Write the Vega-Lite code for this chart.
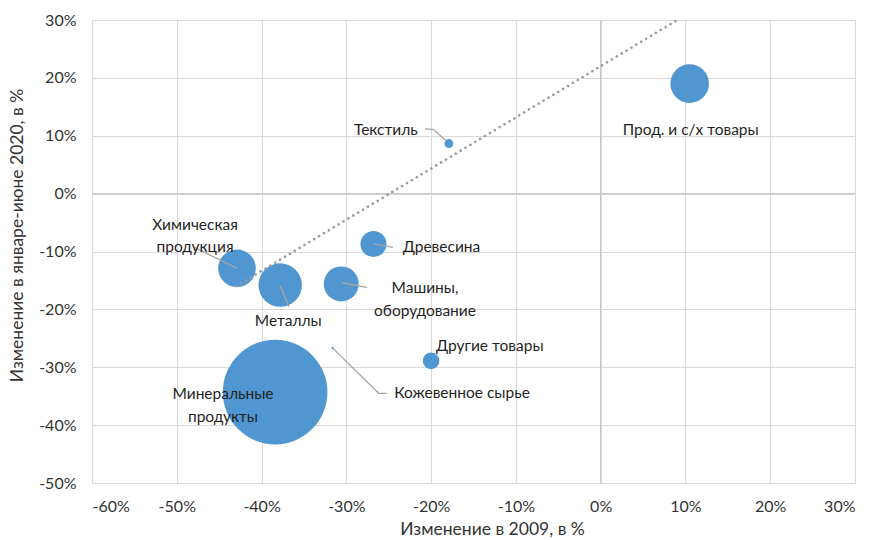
{
  "$schema": "https://vega.github.io/schema/vega-lite/v6.json",
  "autosize": "none",
  "width": 763,
  "height": 463,
  "padding": {"left": 92, "top": 20, "right": 16, "bottom": 57},
  "background": "white",
  "config": {
    "font": "Lato",
    "view": {"stroke": null},
    "axis": {
      "labelFont": "Lato", "labelFontSize": 16, "labelColor": "#333333",
      "titleFont": "Lato", "titleFontSize": 17.5, "titleFontWeight": "normal", "titleColor": "#333333",
      "gridColor": "#d9d9d9", "gridWidth": 1, "domain": false, "ticks": false
    }
  },
  "datasets": {
    "points": [
      {"name": "Минеральные продукты", "label": "Минеральные\nпродукты", "x": -38.4, "y": -34.3, "w": 58.0, "lx": -44.55, "ly": -34.66},
      {"name": "Металлы", "label": "Металлы", "x": -37.8, "y": -15.8, "w": 10.0, "lx": -36.85, "ly": -22.0},
      {"name": "Химическая продукция", "label": "Химическая\nпродукция", "x": -42.9, "y": -12.9, "w": 7.5, "lx": -47.85, "ly": -5.4},
      {"name": "Машины, оборудование", "label": "Машины,\nоборудование", "x": -30.6, "y": -15.6, "w": 6.5, "lx": -20.72, "ly": -16.39},
      {"name": "Древесина", "label": "Древесина", "x": -26.8, "y": -8.7, "w": 3.6, "lx": -23.35, "ly": -9.3},
      {"name": "Текстиль", "label": "Текстиль", "x": -17.9, "y": 8.65, "w": 0.42, "lx": -21.58, "ly": 11.0},
      {"name": "Прод. и с/х товары", "label": "Прод. и с/х товары", "x": 10.5, "y": 19.0, "w": 7.9, "lx": 10.62, "ly": 11.0},
      {"name": "Другие товары", "label": "Другие товары", "x": -20.0, "y": -28.9, "w": 1.45, "lx": -19.42, "ly": -26.28},
      {"name": "Кожевенное сырье", "label": "Кожевенное сырье", "x": -31.6, "y": -26.7, "w": 0.03, "lx": -24.34, "ly": -34.5}
    ],
    "leaders": [
      {"name": "Химическая продукция", "ord": 1, "x": -47.9, "y": -9.3},
      {"name": "Химическая продукция", "ord": 2, "x": -42.9, "y": -12.9},
      {"name": "Текстиль", "ord": 1, "x": -20.72, "y": 11.2},
      {"name": "Текстиль", "ord": 2, "x": -19.74, "y": 11.1},
      {"name": "Текстиль", "ord": 3, "x": -18.2, "y": 9.1},
      {"name": "Древесина", "ord": 1, "x": -26.8, "y": -8.7},
      {"name": "Древесина", "ord": 2, "x": -24.5, "y": -9.3},
      {"name": "Машины, оборудование", "ord": 1, "x": -30.5, "y": -15.4},
      {"name": "Машины, оборудование", "ord": 2, "x": -27.6, "y": -16.2},
      {"name": "Металлы", "ord": 1, "x": -37.8, "y": -15.9},
      {"name": "Металлы", "ord": 2, "x": -36.76, "y": -19.54},
      {"name": "Кожевенное сырье", "ord": 1, "x": -31.6, "y": -26.7},
      {"name": "Кожевенное сырье", "ord": 2, "x": -26.18, "y": -34.5},
      {"name": "Кожевенное сырье", "ord": 3, "x": -25.24, "y": -34.5}
    ],
    "trend": [
      {"x": -43.0, "y": -16.0},
      {"x": 10.5, "y": 31.3}
    ],
    "zero": [{"v": 0}]
  },
  "layer": [
    {
      "data": {"name": "points"},
      "mark": {"type": "point", "opacity": 0},
      "encoding": {
        "x": {"field": "x", "type": "quantitative", "scale": {"domain": [-60, 30], "nice": false, "zero": false},
          "axis": {"values": [-60, -50, -40, -30, -20, -10, 0, 10, 20, 30], "labelExpr": "datum.value + '%'", "labelPadding": 15,
            "title": "Изменение в 2009, в %", "titleX": 400, "titleY": 46, "titleBaseline": "middle", "titleAnchor": "middle"}},
        "y": {"field": "y", "type": "quantitative", "scale": {"domain": [-50, 30], "nice": false, "zero": false},
          "axis": {"values": [-50, -40, -30, -20, -10, 0, 10, 20, 30], "labelExpr": "datum.value + '%'", "labelPadding": 16,
            "title": "Изменение в январе-июне 2020, в %", "titleX": -75, "titleY": 215, "titleBaseline": "middle", "titleAnchor": "middle"}}
      }
    },
    {
      "data": {"name": "zero"},
      "mark": {"type": "rule", "color": "#bfbfbf", "strokeWidth": 1},
      "encoding": {"x": {"field": "v", "type": "quantitative"}}
    },
    {
      "data": {"name": "zero"},
      "mark": {"type": "rule", "color": "#bfbfbf", "strokeWidth": 1},
      "encoding": {"y": {"field": "v", "type": "quantitative"}}
    },
    {
      "data": {"name": "points"},
      "mark": {"type": "circle", "color": "#5097d2", "opacity": 1},
      "encoding": {
        "x": {"field": "x", "type": "quantitative"},
        "y": {"field": "y", "type": "quantitative"},
        "size": {"field": "w", "type": "quantitative", "scale": {"domain": [0, 58], "range": [0, 10936], "zero": true}, "legend": null}
      }
    },
    {
      "data": {"name": "trend"},
      "mark": {"type": "line", "color": "#9a9a9a", "strokeWidth": 2.6, "strokeDash": [0.1, 5.6], "strokeCap": "round", "clip": true},
      "encoding": {
        "x": {"field": "x", "type": "quantitative"},
        "y": {"field": "y", "type": "quantitative"}
      }
    },
    {
      "data": {"name": "leaders"},
      "mark": {"type": "line", "color": "#a5a5a5", "strokeWidth": 1.3},
      "encoding": {
        "x": {"field": "x", "type": "quantitative"},
        "y": {"field": "y", "type": "quantitative"},
        "detail": {"field": "name", "type": "nominal"},
        "order": {"field": "ord", "type": "quantitative"}
      }
    },
    {
      "data": {"name": "points"},
      "transform": [{"filter": {"field": "name", "oneOf": ["Минеральные продукты", "Металлы", "Химическая продукция", "Машины, оборудование", "Прод. и с/х товары"]}}],
      "mark": {"type": "text", "align": "center", "baseline": "middle", "fontSize": 15.5, "font": "Lato", "color": "#1f1f1f", "lineBreak": "\n", "lineHeight": 22.5},
      "encoding": {
        "x": {"field": "lx", "type": "quantitative"},
        "y": {"field": "ly", "type": "quantitative"},
        "text": {"field": "label"}
      }
    },
    {
      "data": {"name": "points"},
      "transform": [{"filter": {"field": "name", "oneOf": ["Древесина", "Другие товары", "Кожевенное сырье"]}}],
      "mark": {"type": "text", "align": "left", "baseline": "middle", "fontSize": 15.5, "font": "Lato", "color": "#1f1f1f"},
      "encoding": {
        "x": {"field": "lx", "type": "quantitative"},
        "y": {"field": "ly", "type": "quantitative"},
        "text": {"field": "label"}
      }
    },
    {
      "data": {"name": "points"},
      "transform": [{"filter": {"field": "name", "oneOf": ["Текстиль"]}}],
      "mark": {"type": "text", "align": "right", "baseline": "middle", "fontSize": 15.5, "font": "Lato", "color": "#1f1f1f"},
      "encoding": {
        "x": {"field": "lx", "type": "quantitative"},
        "y": {"field": "ly", "type": "quantitative"},
        "text": {"field": "label"}
      }
    }
  ]
}
